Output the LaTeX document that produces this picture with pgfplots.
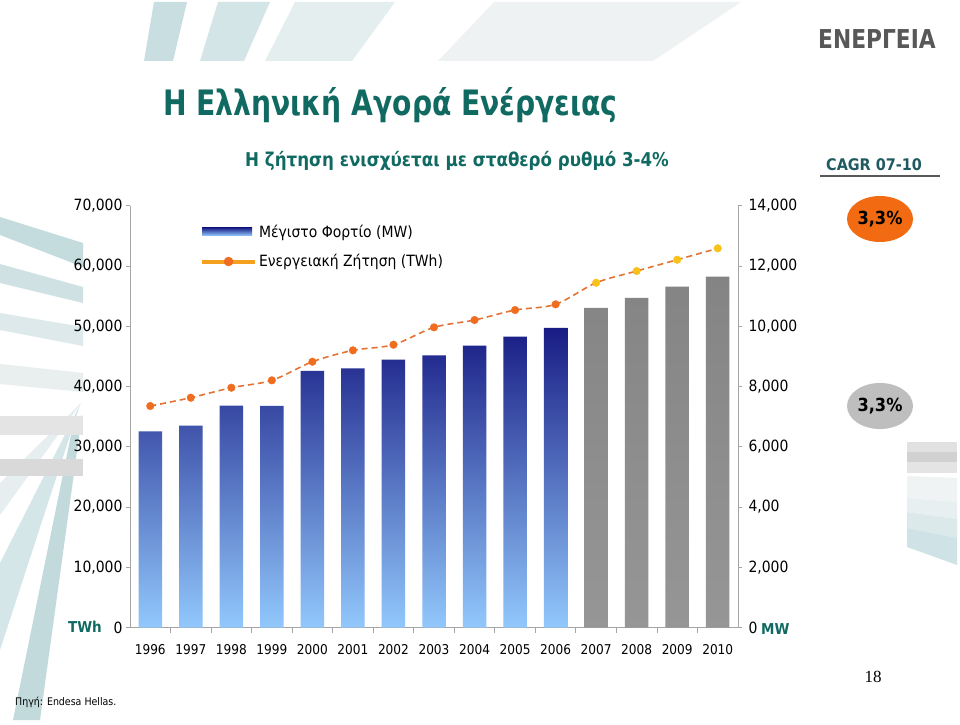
\documentclass[border=0pt]{standalone}
\usepackage{fontspec}
\setmainfont{DejaVu Sans Condensed}[BoldFont={DejaVu Sans Condensed Bold}]
\newfontfamily\serifnum{Liberation Serif}
\usepackage{pgfplots}
\pgfplotsset{compat=1.18}
\definecolor{teal1}{RGB}{16,106,98}
\definecolor{teal2}{RGB}{30,90,95}
\definecolor{navyb}{RGB}{24,28,132}
\definecolor{lightb}{RGB}{146,200,252}
\definecolor{grayb1}{RGB}{132,132,132}
\definecolor{grayb2}{RGB}{150,150,150}
\definecolor{axisgray}{RGB}{165,165,165}
\definecolor{dashline}{RGB}{228,116,52}
\definecolor{mkorange}{RGB}{240,108,30}
\definecolor{mkgold}{RGB}{248,194,27}
\definecolor{legline}{RGB}{245,160,30}
\definecolor{orangeE}{RGB}{242,106,18}
\definecolor{grayE}{RGB}{190,190,190}
\definecolor{title5}{RGB}{88,88,88}
\begin{document}
\begin{tikzpicture}[x=1pt,y=1pt]
\useasboundingbox (0,0) rectangle (960,724);
\fill[white] (0,0) rectangle (960,724);
% top decorations
\fill[fill={rgb,255:red,200;green,222;blue,225}] (144,663) -- (173,663) -- (187,722) -- (154,722) -- cycle;
\fill[fill={rgb,255:red,212;green,229;blue,231}] (200,663) -- (244,663) -- (270,722) -- (218,722) -- cycle;
\fill[fill={rgb,255:red,229;green,238;blue,239}] (265,663) -- (352,663) -- (395,722) -- (295,722) -- cycle;
\fill[fill={rgb,255:red,239;green,242;blue,242}] (438,663) -- (653,663) -- (741,722) -- (494,722) -- cycle;
% left decorations
\fill[fill={rgb,255:red,230;green,238;blue,239}] (82,322) -- (0,241) -- (0,209) -- cycle;
\fill[fill={rgb,255:red,213;green,230;blue,232}] (80,319) -- (0,161) -- (0,74) -- cycle;
\fill[fill={rgb,255:red,195;green,218;blue,221}] (73,299) -- (82,309) -- (40,4) -- (13,4) -- cycle;
\fill[fill={rgb,255:red,197;green,220;blue,223}] (0,507) -- (83,481) -- (83,457) -- (0,489) -- cycle;
\fill[fill={rgb,255:red,207;green,225;blue,227}] (0,460) -- (83,437) -- (83,421) -- (0,441) -- cycle;
\fill[fill={rgb,255:red,221;green,233;blue,234}] (0,411) -- (83,397) -- (83,378) -- (0,394) -- cycle;
\fill[fill={rgb,255:red,233;green,238;blue,238}] (0,360) -- (83,351) -- (83,332) -- (0,340) -- cycle;
\fill[fill={rgb,255:red,228;green,228;blue,228}] (0,308) rectangle (83,289);
\fill[fill={rgb,255:red,217;green,217;blue,217}] (0,265) rectangle (83,248);
% right decorations
\fill[fill={rgb,255:red,225;green,225;blue,225}] (907,282) rectangle (957,272);
\fill[fill={rgb,255:red,209;green,209;blue,209}] (907,272) rectangle (957,262);
\fill[fill={rgb,255:red,228;green,228;blue,228}] (907,262) rectangle (957,251);
\fill[fill={rgb,255:red,240;green,243;blue,243}] (907,248) -- (957,246) -- (957,222) -- (907,226) -- cycle;
\fill[fill={rgb,255:red,231;green,239;blue,240}] (907,226) -- (957,222) -- (957,205) -- (907,212) -- cycle;
\fill[fill={rgb,255:red,219;green,233;blue,235}] (907,212) -- (957,205) -- (957,186) -- (907,196) -- cycle;
\fill[fill={rgb,255:red,207;green,227;blue,230}] (907,196) -- (957,186) -- (957,159) -- (907,177) -- cycle;
% titles
\node[anchor=base west, inner sep=0, text=teal1, font=\bfseries\fontsize{35}{40}\selectfont] at (163,608) {\scalebox{0.895}[1]{Η Ελληνική Αγορά Ενέργειας}};
\node[anchor=base west, inner sep=0, text=teal1, font=\bfseries\fontsize{19}{23}\selectfont] at (245,557) {\scalebox{0.975}[1]{Η ζήτηση ενισχύεται με σταθερό ρυθμό 3-4\%}};
\node[anchor=base west, inner sep=0, text=teal2, font=\bfseries\fontsize{16}{19}\selectfont] at (826,553) {CAGR 07-10};
\draw[color=title5, line width=1.5pt] (820,548) -- (940,548);
\node[anchor=base west, inner sep=0, text=title5, font=\bfseries\fontsize{26}{30}\selectfont] at (818,675) {\scalebox{0.93}[1]{ΕΝΕΡΓΕΙΑ}};
\fill[orangeE] (880,505) ellipse [x radius=33, y radius=23];
\node[font=\bfseries\fontsize{18}{21}\selectfont] at (880,505) {3,3\%};
\fill[grayE] (880,318) ellipse [x radius=33, y radius=23];
\node[font=\bfseries\fontsize{18}{21}\selectfont] at (880,318) {3,3\%};
\node[font=\serifnum\fontsize{17}{20}\selectfont] at (873,47) {18};
\node[anchor=base west, inner sep=0, font=\fontsize{10.5}{13}\selectfont] at (15,19) {Πηγή: Endesa Hellas.};
\node[anchor=base east, inner sep=0, text=teal1, font=\bfseries\fontsize{15}{18}\selectfont] at (102,92) {TWh};
\node[anchor=base west, inner sep=0, text=teal1, font=\bfseries\fontsize{15}{18}\selectfont] at (761,90) {MW};
% bars (right axis, MW)
\begin{axis}[
  at={(130pt,96.3pt)}, anchor=south west,
  width=608pt, height=422pt, scale only axis,
  xmin=-0.5, xmax=14.5, ymin=0, ymax=14000,
  axis y line*=right, axis x line*=bottom,
  axis line style={draw=axisgray, line width=0.8pt},
  tick style={draw=axisgray, line width=0.8pt},
  tick align=outside, major tick length=4pt, minor tick length=5pt,
  scaled y ticks=false,
  xtick={0,...,14},
  xticklabels={1996,1997,1998,1999,2000,2001,2002,2003,2004,2005,2006,2007,2008,2009,2010},
  minor xtick={0.5,1.5,...,13.5},
  major x tick style={draw=none},
  xticklabel style={font=\fontsize{13.5}{16}\selectfont, yshift=-9pt},
  ytick={0,2000,...,14000},
  yticklabels={0,{2,000},{4,00},{6,000},{8,000},{10,000},{12,000},{14,000}},
  yticklabel style={font=\fontsize{15.5}{18}\selectfont, xshift=3pt},
]
\addplot[ybar, bar width=23.5pt, bar shift=0pt, draw=none, top color=navyb, bottom color=lightb]
coordinates {(0,6515)(1,6702)(2,7366)(3,7356)(4,8517)(5,8606)(6,8892)(7,9038)(8,9356)(9,9655)(10,9944)};
\addplot[ybar, bar width=23.5pt, bar shift=0pt, draw=none, top color=grayb1, bottom color=grayb2]
coordinates {(11,10607)(12,10939)(13,11314)(14,11646)};
\end{axis}
% line (left axis, TWh)
\begin{axis}[
  at={(130pt,96.3pt)}, anchor=south west,
  width=608pt, height=422pt, scale only axis,
  xmin=-0.5, xmax=14.5, ymin=0, ymax=70000,
  axis y line*=left, axis x line=none,
  axis line style={draw=axisgray, line width=0.8pt},
  tick style={draw=axisgray, line width=0.8pt},
  tick align=outside, major tick length=4pt,
  ytick={0,10000,...,70000}, scaled y ticks=false,
  yticklabel style={font=\fontsize{15.5}{18}\selectfont, /pgf/number format/.cd, fixed, 1000 sep={,}, assume math mode=true},
  legend style={at={(0.11,0.965)}, anchor=north west, draw=none, fill=none,
    font=\fontsize{15.5}{18}\selectfont, row sep=12pt, legend cell align=left},
]
\addlegendimage{legend image code/.code={\shade[draw=none, top color=navyb, bottom color=lightb] (0pt,-4pt) rectangle (50pt,4pt);}}
\addlegendentry{Μέγιστο Φορτίο (MW)}
\addlegendimage{legend image code/.code={\draw[line width=4pt, legline] (0pt,0pt) -- (53pt,0pt); \fill[mkorange] (26.5pt,0pt) circle (4.5pt);}}
\addlegendentry{Ενεργειακή Ζήτηση (TWh)}
\addplot[forget plot, smooth, tension=0.5, color=dashline, line width=1.6pt, dash pattern=on 6pt off 4pt]
coordinates {(0,36772)(1,38150)(2,39808)(3,41034)(4,44120)(5,46010)(6,46940)(7,49825)(8,51036)(9,52695)(10,53640)(11,57220)(12,59165)(13,61040)(14,62928)};
\addplot[forget plot, only marks, mark=*, mark size=3.8pt, color=mkorange]
coordinates {(0,36772)(1,38150)(2,39808)(3,41034)(4,44120)(5,46010)(6,46940)(7,49825)(8,51036)(9,52695)(10,53640)};
\addplot[forget plot, only marks, mark=*, mark size=3.8pt, color=mkgold]
coordinates {(11,57220)(12,59165)(13,61040)(14,62928)};
\end{axis}
\end{tikzpicture}
\end{document}
